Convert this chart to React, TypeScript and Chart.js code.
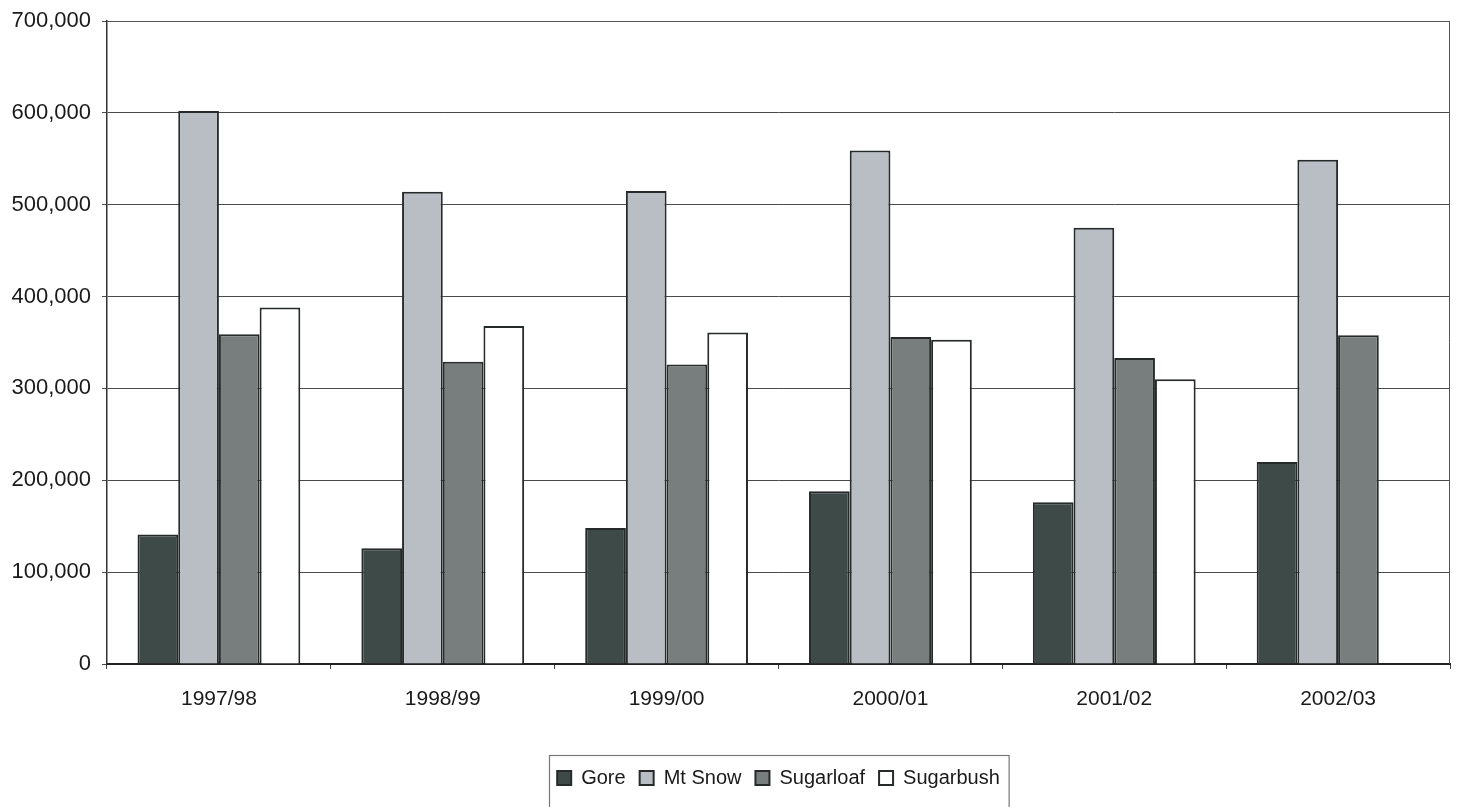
import React, { useEffect, useRef } from "react";
import { Chart, registerables } from "chart.js";

Chart.register(...registerables);

const seasons = ["1997/98", "1998/99", "1999/00", "2000/01", "2001/02", "2002/03"];
const gore = [141000, 126000, 148000, 188000, 176000, 220000];
const mtSnow = [602000, 514000, 515000, 559000, 475000, 549000];
const sugarloaf = [359000, 329000, 326000, 356000, 333000, 358000];
const sugarbush = [388000, 368000, 361000, 353000, 310000, null];
const seriesNames = ["Gore", "Mt Snow", "Sugarloaf", "Sugarbush"];
const yMax = 700000;
const yStep = 100000;

const FONT = "'Liberation Sans', Arial, sans-serif";

const frame = {
  id: "frame",
  afterDatasetsDraw(chart: any) {
    const { ctx, chartArea } = chart;
    ctx.save();
    ctx.strokeStyle = "#555";
    ctx.lineWidth = 1;
    ctx.beginPath();
    ctx.moveTo(chartArea.left, chartArea.top + 0.5);
    ctx.lineTo(chartArea.right - 0.5, chartArea.top + 0.5);
    ctx.lineTo(chartArea.right - 0.5, chartArea.bottom);
    ctx.stroke();
    ctx.restore();
  },
  afterDraw(chart: any) {
    const lg = chart.legend;
    if (!lg || !lg.legendHitBoxes || !lg.legendHitBoxes.length) return;
    const hb = lg.legendHitBoxes;
    const first = hb[0];
    const last = hb[hb.length - 1];
    const x0 = first.left - 8;
    const x1 = last.left + last.width + 9;
    const cy = first.top + first.height / 2;
    const y0 = cy - 23;
    const ctx = chart.ctx;
    ctx.save();
    ctx.strokeStyle = "#777";
    ctx.lineWidth = 1.2;
    ctx.strokeRect(Math.round(x0) + 0.5, Math.round(y0) + 0.5, x1 - x0, 80);
    ctx.restore();
  },
};

export default function App() {
  const ref = useRef<HTMLCanvasElement>(null);
  useEffect(() => {
    if (!ref.current) return;
    const border = "#262a2a";
    const chart = new Chart(ref.current, {
      type: "bar",
      data: {
        labels: seasons,
        datasets: [
          { label: seriesNames[0], data: gore, backgroundColor: "#3e4a48", borderColor: border, borderWidth: 2 },
          { label: seriesNames[1], data: mtSnow, backgroundColor: "#b9bdc4", borderColor: border, borderWidth: 2 },
          { label: seriesNames[2], data: sugarloaf, backgroundColor: "#777e7d", borderColor: border, borderWidth: 2 },
          { label: seriesNames[3], data: sugarbush as any, backgroundColor: "#ffffff", borderColor: border, borderWidth: 2 },
        ],
      },
      options: {
        animation: false,
        responsive: true,
        maintainAspectRatio: false,
        layout: { padding: { left: 0, right: 11, top: 21, bottom: 9 } },
        datasets: { bar: { categoryPercentage: 4 / 5.5, barPercentage: 1 } },
        plugins: {
          tooltip: { enabled: false },
          legend: {
            position: "bottom",
            fullSize: false,
            labels: {
              boxWidth: 14,
              boxHeight: 14,
              padding: 14,
              color: "#1a1a1a",
              font: { family: FONT, size: 20 },
            },
          },
        },
        scales: {
          x: {
            afterFit: (s: any) => { s.height = 90; },
            grid: { display: true, drawOnChartArea: false, drawTicks: true, tickLength: 5, offset: true, color: "#444" },
            border: { display: true, color: "#222", width: 2 },
            ticks: { color: "#1a1a1a", padding: 18, font: { family: FONT, size: 21 } },
          },
          y: {
            min: 0,
            max: yMax,
            afterFit: (s: any) => { s.width = 107; s.paddingTop = 0; s.paddingBottom = 0; },
            grid: { color: "#4a4a4a", lineWidth: 1, tickLength: 5, drawTicks: true },
            border: { display: true, color: "#333", width: 1.5 },
            ticks: {
              stepSize: yStep,
              color: "#1a1a1a",
              padding: 11,
              font: { family: FONT, size: 22 },
              callback: (v: any) => Number(v).toLocaleString("en-US"),
            },
          },
        },
      },
      plugins: [frame],
    });
    return () => chart.destroy();
  }, []);
  return (
    <div style={{ position: "fixed", left: 0, top: 0, width: 1461, height: 807, background: "#fff" }}>
      <canvas ref={ref} />
    </div>
  );
}
